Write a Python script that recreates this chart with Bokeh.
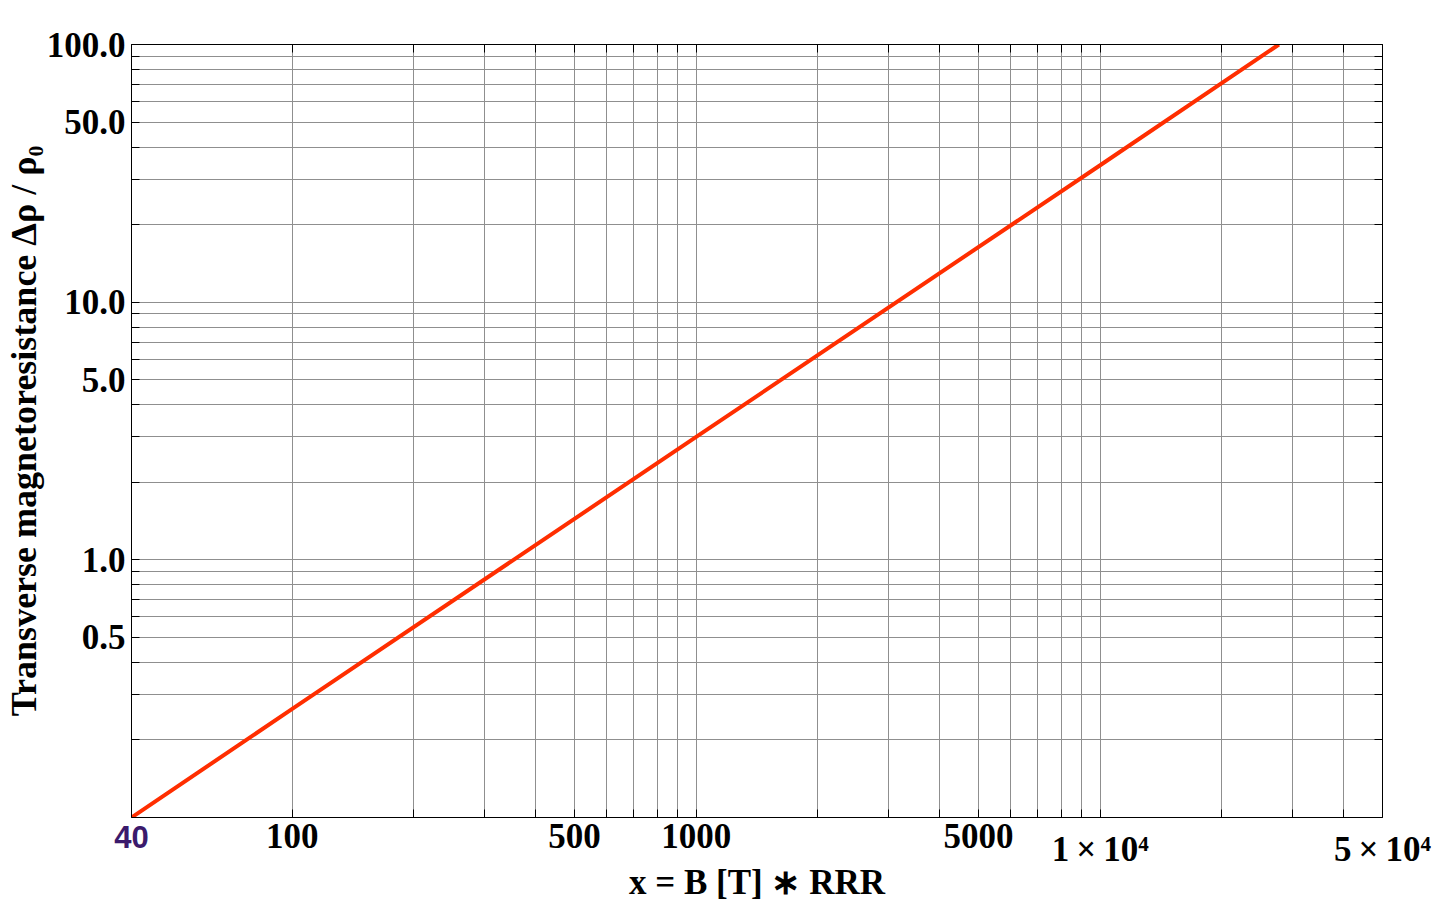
from bokeh.plotting import figure
from bokeh.models import FixedTicker, LogAxis, CustomJSTickFormatter
from bokeh.embed import file_html
from bokeh.resources import INLINE

# ---- data ----
x_vals = [40, 100, 1000, 10000, 27700]
y_vals = [0.1, 0.264, 3.0, 34.0, 100.0]

# ---- grid / tick positions ----
x_grid = [100, 200, 300, 400, 500, 600, 700, 800, 900,
          1000, 2000, 3000, 4000, 5000, 6000, 7000, 8000, 9000,
          10000, 20000, 30000, 40000]
y_grid = [0.2, 0.3, 0.4, 0.5, 0.6, 0.7, 0.8, 0.9,
          1, 2, 3, 4, 5, 6, 7, 8, 9,
          10, 20, 30, 40, 50, 60, 70, 80, 90, 100]

x_tick_vals = [100, 500, 1000, 5000]
x_tick_text = ["100", "500", "1000", "5000"]
x_first_vals = [40]
x_first_text = ["40"]
x_extra_vals = [10000, 50000]
x_extra_text = ["1\u2009\u00d7\u200910\u2074", "5\u2009\u00d7\u200910\u2074"]
y_tick_vals = [0.5, 1, 5, 10, 50, 100]
y_tick_text = ["0.5", "1.0", "5.0", "10.0", "50.0", "100.0"]

FONT = "Liberation Serif"
TICK_SIZE = "35px"

p = figure(width=1433, height=904, x_axis_type="log", y_axis_type="log",
           x_range=(40, 50000), y_range=(0.1, 100),
           output_backend="svg", toolbar_location=None,
           min_border_left=131, min_border_right=51,
           min_border_top=44, min_border_bottom=87,
           background_fill_color="white", border_fill_color="white")
p.outline_line_color = "black"
p.outline_line_width = 1

fmt_code = """
for (let i = 0; i < vals.length; i++) {
  if (Math.abs(vals[i] - tick) / vals[i] < 1e-6) return labs[i];
}
return "";
"""


def fmt(vals, labs):
    return CustomJSTickFormatter(args=dict(vals=vals, labs=labs), code=fmt_code)


blank = CustomJSTickFormatter(code='return "";')


def style_axis(ax):
    ax.axis_line_color = "black"
    ax.axis_line_width = 1
    ax.major_tick_in = 8
    ax.major_tick_out = 0
    ax.major_tick_line_color = "black"
    ax.major_tick_line_width = 1
    ax.minor_tick_line_color = None
    ax.major_label_text_font = FONT
    ax.major_label_text_font_style = "bold"
    ax.major_label_text_font_size = TICK_SIZE
    ax.major_label_text_color = "black"
    ax.axis_label_text_font = FONT
    ax.axis_label_text_font_style = "bold"
    ax.axis_label_text_color = "black"


def style_label_only(ax):
    ax.axis_line_color = None
    ax.major_tick_line_color = None
    ax.minor_tick_line_color = None
    ax.major_tick_in = 0
    ax.major_tick_out = 0


# main bottom axis
xax = p.xaxis[0]
xax.ticker = FixedTicker(ticks=x_grid, minor_ticks=[])
xax.formatter = fmt(x_tick_vals, x_tick_text)
style_axis(xax)
xax.major_label_standoff = 6

# "40" in purple sans
ax40 = LogAxis(ticker=FixedTicker(ticks=x_first_vals, minor_ticks=[]),
               formatter=fmt(x_first_vals, x_first_text))
style_axis(ax40)
style_label_only(ax40)
ax40.major_label_text_font = "Liberation Sans"
ax40.major_label_text_font_size = "31px"
ax40.major_label_text_color = "#3b1a6c"
ax40.major_label_standoff = -25
p.add_layout(ax40, "below")

# 1x10^4, 5x10^4 (slightly lower)
axe = LogAxis(ticker=FixedTicker(ticks=x_extra_vals, minor_ticks=[]),
              formatter=fmt(x_extra_vals, x_extra_text))
style_axis(axe)
style_label_only(axe)
axe.major_label_standoff = -21
axe.axis_label = "x = B [T] \u2217 RRR"
axe.axis_label_text_font_size = "35px"
axe.axis_label_standoff = -9
p.add_layout(axe, "below")

yax = p.yaxis[0]
yax.ticker = FixedTicker(ticks=y_grid, minor_ticks=[])
yax.formatter = fmt(y_tick_vals, y_tick_text)
style_axis(yax)
yax.major_label_standoff = 6
yax.major_label_orientation = "horizontal"
yax.axis_label = "Transverse magnetoresistance \u0394\u03c1 / \u03c1\u2080"
yax.axis_label_text_font_size = "36px"
yax.axis_label_standoff = 0

top = LogAxis(ticker=FixedTicker(ticks=x_grid, minor_ticks=[]), formatter=blank)
style_axis(top)
top.major_label_text_font_size = "0px"
top.major_label_standoff = 0
p.add_layout(top, "above")

right = LogAxis(ticker=FixedTicker(ticks=y_grid, minor_ticks=[]), formatter=blank)
style_axis(right)
right.major_label_text_font_size = "0px"
right.major_label_standoff = 0
p.add_layout(right, "right")

p.xgrid.ticker = FixedTicker(ticks=x_grid, minor_ticks=[])
p.ygrid.ticker = FixedTicker(ticks=y_grid, minor_ticks=[])
for g in (p.xgrid, p.ygrid):
    g.grid_line_color = "#8f8f8f"
    g.grid_line_width = 1
    g.grid_line_alpha = 1

p.line(x_vals, y_vals, line_color="#ff2e00", line_width=4)

open("out.html", "w").write(file_html(p, INLINE))
